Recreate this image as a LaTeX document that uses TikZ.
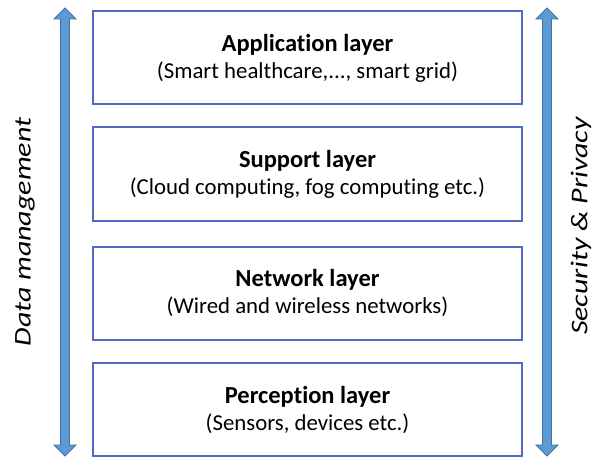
\documentclass[tikz,border=0pt]{standalone}
\usepackage{fontspec}
\setmainfont{Carlito}[Ligatures=NoCommon]
\usepackage{tikz}
\definecolor{boxblue}{RGB}{84,104,200}
\definecolor{arrowfill}{RGB}{91,155,213}
\definecolor{arrowline}{RGB}{65,113,156}
\tikzset{ x=1pt, y=-1pt,
  layer/.style={draw=boxblue, line width=2pt, minimum width=429pt, minimum height=93pt, inner sep=0pt, align=center, font=\fontsize{22.8}{27}\selectfont},
  sidetext/.style={rotate=90, font=\itshape\fontsize{24}{28}\selectfont},
  bigarrow/.style={fill=arrowfill, draw=arrowline, line width=0.8pt} }
\newcommand{\layertitle}[1]{{\bfseries\fontsize{24.5}{27}\selectfont #1}}

\begin{document}
\begin{tikzpicture}
\useasboundingbox (0,0) rectangle (594,457);
\node[layer] (app) at (307.5,58) {\layertitle{Application layer}\\(Smart healthcare,..., smart grid)};
\node[layer] (support) at (307.5,174) {\layertitle{Support layer}\\(Cloud computing, fog computing etc.)};
\node[layer] (network) at (307.5,293) {\layertitle{Network layer}\\(Wired and wireless networks)};
\node[layer] (perception) at (307.5,409.5) {\layertitle{Perception layer}\\(Sensors, devices etc.)};
% double arrows on both sides
\foreach \ax in {65,547}{
  \draw[bigarrow] (\ax-4.5,19) -- (\ax-11,19) -- (\ax,8) -- (\ax+11,19) -- (\ax+4.5,19)
    -- (\ax+4.5,445) -- (\ax+11,445) -- (\ax,456) -- (\ax-11,445) -- (\ax-4.5,445) -- cycle;
}
\node[sidetext] (datamgmt) at (25,232) {\scalebox{1.25}[1]{Data management}};
\node[sidetext] (secpriv) at (581,226) {\scalebox{1.25}[1]{Security \& Privacy}};
\end{tikzpicture}
\end{document}
